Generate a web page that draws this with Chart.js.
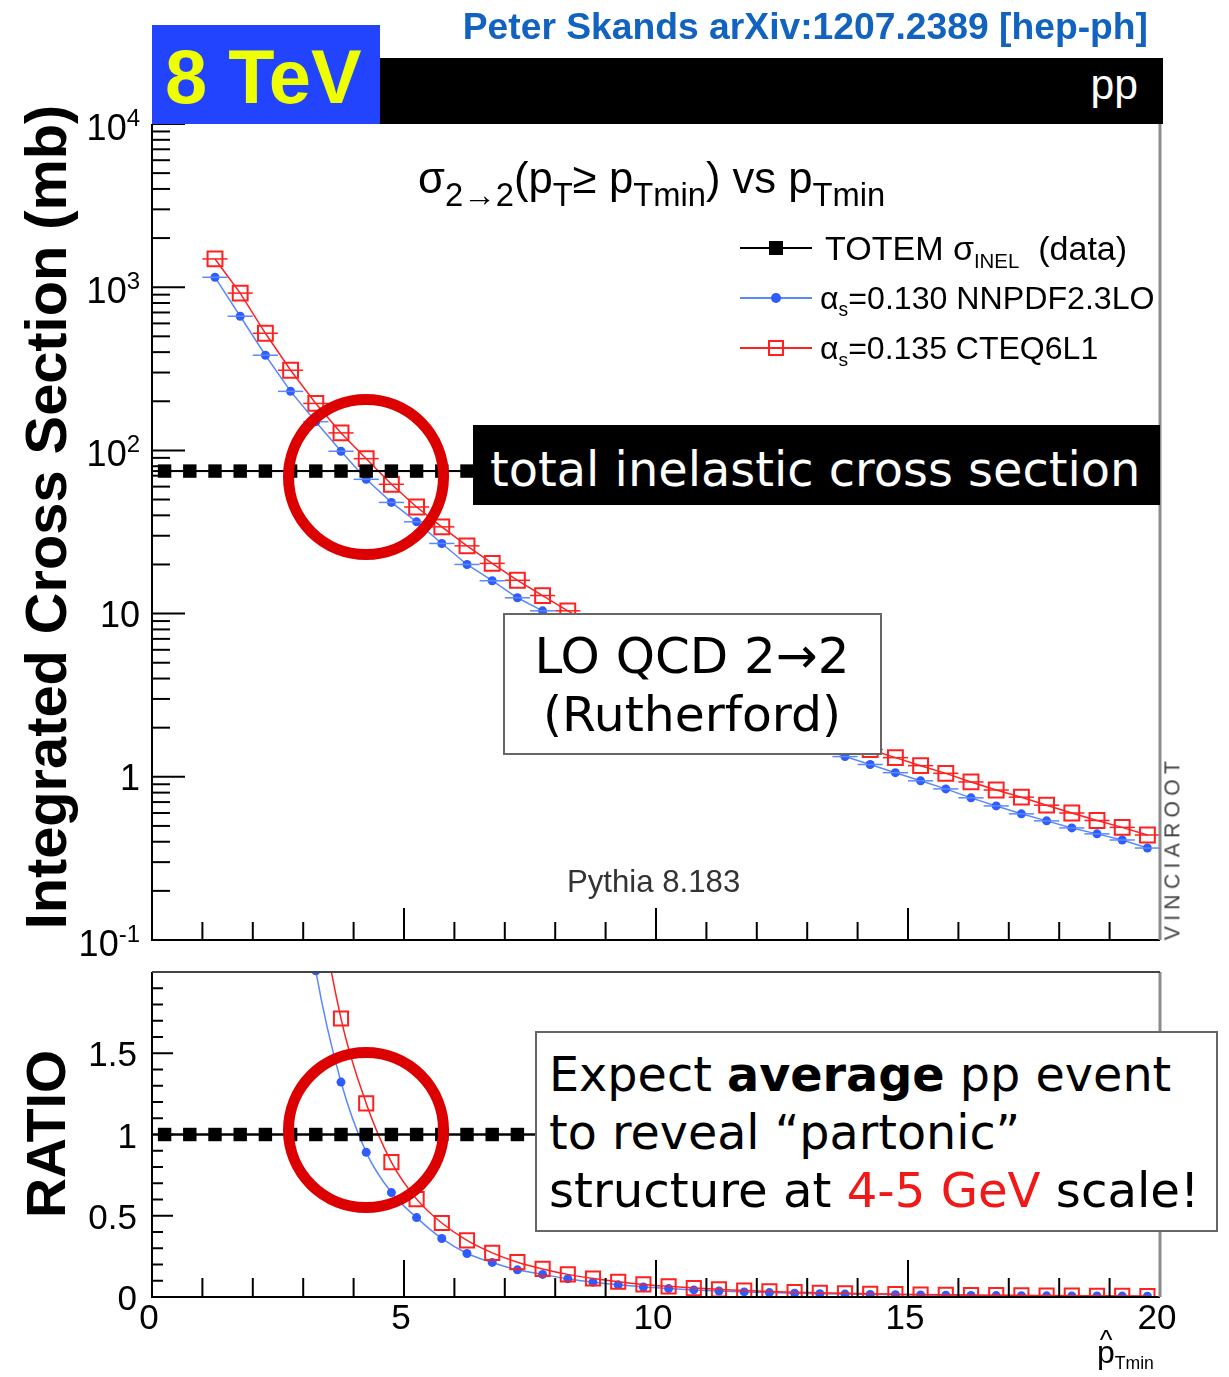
<!DOCTYPE html>
<html><head><meta charset="utf-8">
<script src="https://cdn.jsdelivr.net/npm/chart.js@4.4.1/dist/chart.umd.min.js"></script>
<style>
html,body{margin:0;padding:0;background:#fff;}
#wrap{position:relative;width:1229px;height:1377px;overflow:hidden;background:#fff;font-family:"Liberation Sans",Arial,sans-serif;}
canvas{position:absolute;left:0;}
.t{position:absolute;white-space:nowrap;line-height:1;}
.s1{font-size:0.75em;position:relative;top:0.4em;}
.sl{font-size:0.6em;position:relative;top:0.38em;}
.sx{font-size:0.55em;position:relative;top:0.35em;}
</style></head>
<body><div id="wrap">
<canvas id="cTop" width="1229" height="960" style="top:0;width:1229px;height:960px"></canvas>
<canvas id="cBot" width="1229" height="417" style="top:960px;width:1229px;height:417px"></canvas>
</div>
<script>
// ---------------- data ----------------
const ptMin = [1.25, 1.75, 2.25, 2.75, 3.25, 3.75, 4.25, 4.75, 5.25, 5.75, 6.25, 6.75, 7.25, 7.75,
  8.25, 8.75, 9.25, 9.75, 10.25, 10.75, 11.25, 11.75, 12.25, 12.75, 13.25, 13.75, 14.25, 14.75,
  15.25, 15.75, 16.25, 16.75, 17.25, 17.75, 18.25, 18.75, 19.25, 19.75];
const sigmaCTEQ = [1490, 920, 522, 310, 194, 128, 89, 62, 45, 34, 26, 20.3, 16, 12.9,
  10.4, 8.5, 7.0, 5.8, 4.9, 4.1, 3.5, 3.0, 2.57, 2.22, 1.92, 1.68, 1.47, 1.31,
  1.17, 1.05, 0.93, 0.83, 0.75, 0.67, 0.60, 0.54, 0.49, 0.44];
const sigmaNNPDF = [1150, 664, 383, 230, 150, 98.8, 66.5, 48, 36.5, 26.9, 20, 15.9, 12.5, 10.4,
  8.37, 6.81, 5.58, 4.62, 3.86, 3.25, 2.75, 2.35, 2.02, 1.74, 1.51, 1.33, 1.19, 1.06,
  0.945, 0.843, 0.743, 0.663, 0.593, 0.537, 0.486, 0.447, 0.41, 0.366];
const totemPt = [0.25, 0.75, 1.25, 1.75, 2.25, 2.75, 3.25, 3.75, 4.25, 4.75, 5.25, 5.75, 6.25, 6.75,
  7.25, 7.75, 8.25, 8.75, 9.25, 9.75, 10.25, 10.75, 11.25, 11.75, 12.25, 12.75, 13.25, 13.75,
  14.25, 14.75, 15.25, 15.75, 16.25, 16.75, 17.25, 17.75, 18.25, 18.75, 19.25, 19.75];
const sigmaTotem = 74.7;          // TOTEM sigma_INEL (mb)
const binHalfWidth = 0.25;
const yDecadeTicks = [0.1, 1, 10, 100, 1000, 10000];
const yDecadeLabels = [['10', '-1'], ['1', ''], ['10', ''], ['10', '2'], ['10', '3'], ['10', '4']];
const xMajorTicks = [0, 5, 10, 15, 20];
const xTickLabels = ['0', '5', '10', '15', '20'];
const ratioMajorTicks = [0, 0.5, 1, 1.5];
const ratioTickLabels = ['0', '0.5', '1', '1.5'];

// derived ratio to TOTEM
const ratioCTEQ = sigmaCTEQ.map(v => v / sigmaTotem);
const ratioNNPDF = sigmaNNPDF.map(v => v / sigmaTotem);

const RED = '#FF2020', BLUE_LINE = '#5A88FF', BLUE_DOT = '#2E5CFF';
const FONT = '"Liberation Sans", Arial, sans-serif';

function pts(xs, ys) { return xs.map((x, i) => ({x: x, y: Array.isArray(ys) ? ys[i] : ys})); }

// ---------- plugins ----------
const xErrPlugin = {
  id: 'xErr',
  afterDatasetsDraw(chart) {
    const {ctx, chartArea: a} = chart; const xs = chart.scales.x;
    ctx.save(); ctx.beginPath(); ctx.rect(a.left, a.top, a.right - a.left, a.bottom - a.top); ctx.clip();
    chart.data.datasets.forEach((ds, i) => {
      if (!ds.xErr) return;
      const meta = chart.getDatasetMeta(i);
      ctx.strokeStyle = ds.borderColor; ctx.lineWidth = ds.errWidth || 1.5;
      meta.data.forEach((p, j) => {
        const xv = ds.data[j].x;
        ctx.beginPath();
        ctx.moveTo(xs.getPixelForValue(xv - binHalfWidth), p.y);
        ctx.lineTo(xs.getPixelForValue(xv + binHalfWidth), p.y);
        ctx.stroke();
      });
    });
    ctx.restore();
  }
};

function makeAxes(cfg) {
  return {
    id: 'axes' + cfg.name,
    afterDraw(chart) {
      const {ctx, chartArea: a} = chart; const xs = chart.scales.x, ys = chart.scales.y;
      ctx.save();
      ctx.strokeStyle = '#000'; ctx.lineWidth = 2;
      const seg = (x1, y1, x2, y2) => { ctx.beginPath(); ctx.moveTo(x1, y1); ctx.lineTo(x2, y2); ctx.stroke(); };
      // x ticks
      for (let v = 1; v < 20; v += 1) {
        const major = xMajorTicks.includes(v);
        const px = xs.getPixelForValue(v);
        seg(px, a.bottom, px, a.bottom - (major ? cfg.xMajLen : cfg.xMinLen));
      }
      // y ticks
      cfg.yMinor.forEach(v => { const py = ys.getPixelForValue(v); seg(a.left, py, a.left + cfg.yMinLen, py); });
      cfg.yMajor.forEach(v => { const py = ys.getPixelForValue(v); seg(a.left, py, a.left + cfg.yMajLen, py); });
      // frame
      ctx.lineWidth = 2; ctx.strokeStyle = '#000';
      seg(a.left, a.top, a.left, a.bottom + 1);
      seg(a.left - 1, a.bottom, a.right, a.bottom);
      ctx.strokeStyle = '#8c8c8c'; ctx.lineWidth = 3;
      seg(a.right, a.top, a.right, a.bottom);
      if (cfg.topLine) { ctx.strokeStyle = '#444'; ctx.lineWidth = 2; seg(a.left, a.top, a.right, a.top); }
      // y labels
      ctx.fillStyle = '#000'; ctx.textBaseline = 'alphabetic';
      cfg.yLabels.forEach(l => {
        const py = ys.getPixelForValue(l.v);
        ctx.font = cfg.labSize + 'px ' + FONT;
        let right = cfg.yLabRight;
        if (l.exp) {
          ctx.font = cfg.expSize + 'px ' + FONT; ctx.textAlign = 'right';
          const ew = ctx.measureText(l.exp).width;
          ctx.fillText(l.exp, right, py + 2);
          right -= ew;
          ctx.font = cfg.labSize + 'px ' + FONT;
          ctx.fillText(l.base, right, py + 16);
        } else {
          ctx.textAlign = 'right';
          ctx.fillText(l.base, right, py + 13);
        }
      });
      // x labels
      if (cfg.xLabels) {
        ctx.font = cfg.labSize + 'px ' + FONT; ctx.textAlign = 'center';
        xMajorTicks.forEach((v, i) => {
          ctx.fillText(xTickLabels[i], xs.getPixelForValue(v) - 3, cfg.xLabBase);
        });
      }
      ctx.restore();
    }
  };
}

// ---------- top chart ----------
const yMinorTop = [];
yDecadeTicks.slice(0, -1).forEach(d => { for (let m = 2; m <= 9; m++) yMinorTop.push(m * d); });
const yLabelsTop = yDecadeTicks.map((v, i) => ({v: v, base: yDecadeLabels[i][0], exp: yDecadeLabels[i][1]}));

new Chart(document.getElementById('cTop'), {
  type: 'line',
  data: { datasets: [
    { label: 'TOTEM σINEL (data)', data: pts(totemPt, sigmaTotem), borderColor: '#000', borderWidth: 2,
      pointStyle: 'rect', pointRadius: 9.5, pointBackgroundColor: '#000', pointBorderColor: '#000', pointBorderWidth: 0, xErr: true, errWidth: 2 },
    { label: 'αs=0.135 CTEQ6L1', data: pts(ptMin, sigmaCTEQ), borderColor: RED, borderWidth: 1.5,
      pointStyle: 'rect', pointRadius: 10.5, pointBackgroundColor: 'rgba(255,255,255,0)', pointBorderColor: RED, pointBorderWidth: 2, xErr: true },
    { label: 'αs=0.130 NNPDF2.3LO', data: pts(ptMin, sigmaNNPDF), borderColor: BLUE_LINE, borderWidth: 1.5,
      pointStyle: 'circle', pointRadius: 4.5, pointBackgroundColor: BLUE_DOT, pointBorderColor: BLUE_DOT, pointBorderWidth: 0, xErr: true }
  ]},
  options: {
    responsive: false, animation: false, devicePixelRatio: 1,
    layout: { padding: { left: 152, top: 124, right: 69, bottom: 20 } },
    scales: {
      x: { type: 'linear', min: 0, max: 20, display: false },
      y: { type: 'logarithmic', min: 0.1, max: 10000, display: false }
    },
    plugins: { legend: { display: false }, tooltip: { enabled: false } },
    elements: { line: { tension: 0 } }
  },
  plugins: [xErrPlugin, makeAxes({ name: 'Top', xMajLen: 32, xMinLen: 18, yMajLen: 33, yMinLen: 18,
    yMajor: yDecadeTicks, yMinor: yMinorTop, yLabels: yLabelsTop, yLabRight: 140, labSize: 36, expSize: 24,
    xLabels: false, topLine: false })]
});

// ---------- ratio chart ----------
const yMinorBot = [];
for (let k = 1; k < 20; k++) { if (k % 5 !== 0) yMinorBot.push(k / 10); }
const yLabelsBot = ratioMajorTicks.map((v, i) => ({v: v, base: ratioTickLabels[i], exp: ''}));

new Chart(document.getElementById('cBot'), {
  type: 'line',
  data: { datasets: [
    { label: 'TOTEM', data: pts(totemPt, 1), borderColor: '#000', borderWidth: 2,
      pointStyle: 'rect', pointRadius: 9.5, pointBackgroundColor: '#000', pointBorderColor: '#000', pointBorderWidth: 0, xErr: true, errWidth: 2 },
    { label: 'CTEQ6L1', data: pts(ptMin, ratioCTEQ), borderColor: RED, borderWidth: 1.5, cubicInterpolationMode: 'monotone',
      pointStyle: 'rect', pointRadius: 10, pointBackgroundColor: 'rgba(255,255,255,0)', pointBorderColor: RED, pointBorderWidth: 2 },
    { label: 'NNPDF2.3LO', data: pts(ptMin, ratioNNPDF), borderColor: BLUE_LINE, borderWidth: 1.5, cubicInterpolationMode: 'monotone',
      pointStyle: 'circle', pointRadius: 4.5, pointBackgroundColor: BLUE_DOT, pointBorderColor: BLUE_DOT, pointBorderWidth: 0 }
  ]},
  options: {
    responsive: false, animation: false, devicePixelRatio: 1,
    layout: { padding: { left: 152, top: 7, right: 69, bottom: 80 } },
    scales: {
      x: { type: 'linear', min: 0, max: 20, display: false },
      y: { type: 'linear', min: 0, max: 2, display: false }
    },
    plugins: { legend: { display: false }, tooltip: { enabled: false } }
  },
  plugins: [xErrPlugin, makeAxes({ name: 'Bot', xMajLen: 37, xMinLen: 19, yMajLen: 21, yMinLen: 11,
    yMajor: ratioMajorTicks, yMinor: yMinorBot, yLabels: yLabelsBot, yLabRight: 137, labSize: 35, expSize: 24,
    xLabels: true, xLabBase: 369, topLine: true })]
});

// ---------- overlays ----------
const wrap = document.getElementById('wrap');
function rect(st) { const d = document.createElement('div'); d.style.position = 'absolute'; d.style.boxSizing = 'border-box'; Object.assign(d.style, st); wrap.appendChild(d); return d; }
function text(html, o) {
  const el = document.createElement('div');
  el.className = 't'; el.innerHTML = html;
  el.style.left = o.x + 'px'; el.style.top = o.y + 'px';
  el.style.fontSize = o.size + 'px';
  el.style.fontFamily = o.font || FONT;
  el.style.fontWeight = o.bold ? 'bold' : 'normal';
  el.style.color = o.color || '#000';
  if (o.ls) el.style.letterSpacing = o.ls;
  wrap.appendChild(el);
  if (o.w) { const w = el.offsetWidth; el.style.fontSize = (o.size * o.w / w) + 'px'; }
  const tx = o.align === 'center' ? '-50%' : (o.align === 'right' ? '-100%' : '0');
  el.style.transform = 'translate(' + tx + ',-50%)' + (o.rot ? ' rotate(' + o.rot + 'deg)' : '');
  return el;
}

// header
text('Peter Skands arXiv:1207.2389 [hep-ph]', {x: 1148, y: 27, size: 36, bold: true, color: '#1262C0', align: 'right', w: 685});
rect({left: '152px', top: '25px', width: '228px', height: '99px', background: '#2244FF'});
text('8 TeV', {x: 165, y: 77, size: 70, bold: true, color: '#EEFF00', w: 197});
rect({left: '380px', top: '58px', width: '783px', height: '66px', background: '#000'});
text('pp', {x: 1138, y: 84, size: 40, color: '#fff', align: 'right', w: 48});

// title
text('σ<span class="s1">2→2</span>(p<span class="s1">T</span>≥ p<span class="s1">Tmin</span>) vs p<span class="s1">Tmin</span>',
  {x: 418, y: 178, size: 40, w: 467});

// legend
rect({left: '740px', top: '247px', width: '72px', height: '2px', background: '#000'});
rect({left: '769px', top: '241px', width: '14px', height: '14px', background: '#000'});
text('TOTEM σ<span class="sl">INEL</span>&nbsp; (data)', {x: 825, y: 248, size: 31, w: 302});
rect({left: '740px', top: '297px', width: '72px', height: '2px', background: BLUE_LINE});
rect({left: '771px', top: '293px', width: '10px', height: '10px', background: BLUE_DOT, borderRadius: '50%'});
text('α<span class="sl">s</span>=0.130 NNPDF2.3LO', {x: 820, y: 298, size: 31, w: 335});
rect({left: '740px', top: '347px', width: '72px', height: '2px', background: RED});
rect({left: '768px', top: '340px', width: '16px', height: '16px', border: '2px solid ' + RED, background: 'transparent'});
text('α<span class="sl">s</span>=0.135 CTEQ6L1', {x: 820, y: 348, size: 31, w: 278});

// total inelastic
rect({left: '473px', top: '425px', width: '687px', height: '80px', background: '#000'});
text('total inelastic cross section', {x: 490, y: 470, size: 48, font: '"DejaVu Sans", Verdana, sans-serif', color: '#fff', w: 650});

// LO QCD box
rect({left: '503px', top: '613px', width: '379px', height: '142px', background: '#fff', border: '2px solid #666'});
text('LO QCD 2→2', {x: 692, y: 657, size: 48, font: '"DejaVu Sans", Verdana, sans-serif', align: 'center', w: 315});
text('(Rutherford)', {x: 692, y: 715, size: 48, font: '"DejaVu Sans", Verdana, sans-serif', align: 'center', w: 298});

text('Pythia 8.183', {x: 567, y: 882, size: 29, color: '#333', w: 173});
text('VINCIAROOT', {x: 1172, y: 848, size: 19, color: '#444', align: 'center', rot: -90, ls: '0.25em', w: 185});

// red circles
rect({left: '283px', top: '394px', width: '166px', height: '166px', border: '11px solid #DD0000', borderRadius: '50%'});
rect({left: '283px', top: '1047px', width: '166px', height: '166px', border: '11px solid #DD0000', borderRadius: '50%'});

// Expect box
rect({left: '535px', top: '1031px', width: '683px', height: '201px', background: '#fff', border: '2px solid #666'});
const DJ = '"DejaVu Sans", Verdana, sans-serif';
text('Expect <b>average</b> pp event', {x: 549, y: 1075, size: 47, font: DJ, w: 623});
text('to reveal “partonic”', {x: 549, y: 1133, size: 47, font: DJ, w: 471});
text('structure at <span style="color:#F01818">4-5 GeV</span> scale!', {x: 549, y: 1190, size: 47, font: DJ, w: 651});

// axis titles
text('Integrated Cross Section (mb)', {x: 47, y: 517, size: 56, bold: true, align: 'center', rot: -90, w: 825});
text('RATIO', {x: 47, y: 1134, size: 54, bold: true, align: 'center', rot: -90, w: 168});
text('<span style="position:relative;display:inline-block">p<span style="position:absolute;left:0.1em;top:-0.38em;font-size:0.85em">^</span></span><span class="sx">Tmin</span>',
  {x: 1097, y: 1352, size: 32});
</script>
</body></html>
